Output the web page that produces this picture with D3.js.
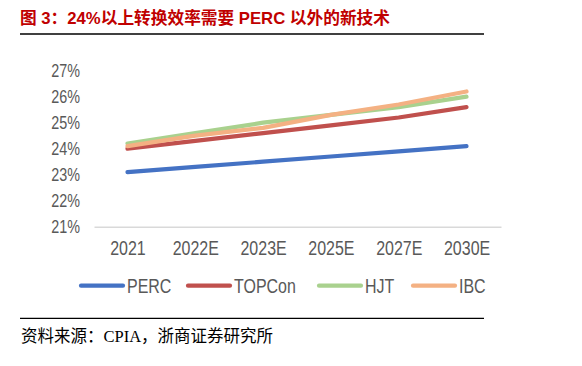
<!DOCTYPE html>
<html>
<head>
<meta charset="utf-8">
<script src="https://cdn.jsdelivr.net/npm/d3@7"></script>
<style>
  body { margin: 0; background: #fff; }
  svg { display: block; }
  .tick text { fill: #595959; font-family: "Liberation Sans", sans-serif; }
</style>
</head>
<body>
<svg width="582" height="366"></svg>
<script>
const years   = ["2021", "2022E", "2023E", "2025E", "2027E", "2030E"];
const perc    = [23.1, 23.3, 23.5, 23.7, 23.9, 24.1];
const topcon  = [24.0, 24.3, 24.6, 24.9, 25.2, 25.6];
const hjt     = [24.2, 24.6, 25.0, 25.3, 25.6, 26.0];
const ibc     = [24.1, 24.5, 24.8, 25.3, 25.7, 26.2];
const yTicks  = [21, 22, 23, 24, 25, 26, 27];

const series = [
  {name: "PERC",   values: perc,   color: "#4472C4"},
  {name: "TOPCon", values: topcon, color: "#C0504D"},
  {name: "HJT",    values: hjt,    color: "#A9D18E"},
  {name: "IBC",    values: ibc,    color: "#F4B183"}
];

// narrow look, like Arial Narrow
const narrow = "scale(0.82,1)";

let svg = d3.select("svg");

// title and rules
svg.append("text")
  .attr("x", 20).attr("y", 24)
  .attr("fill", "#C00000")
  .style("font-family", "'Liberation Sans', 'Noto Sans CJK SC', sans-serif")
  .style("font-weight", "bold")
  .style("font-size", "16.7px")
  .text("图 3：24%以上转换效率需要 PERC 以外的新技术");

svg.append("line").attr("x1", 20).attr("x2", 484).attr("y1", 34).attr("y2", 34)
  .attr("stroke", "#000").attr("stroke-width", 1.3);
svg.append("line").attr("x1", 20).attr("x2", 484).attr("y1", 318.3).attr("y2", 318.3)
  .attr("stroke", "#000").attr("stroke-width", 1.3);

svg.append("text")
  .attr("x", 21).attr("y", 342)
  .attr("fill", "#000")
  .style("font-family", "'Liberation Serif', 'Noto Sans CJK SC', serif")
  .style("font-size", "16.5px")
  .text("资料来源：CPIA，浙商证券研究所");

// scales
let x = d3.scalePoint().domain(years).range([127.5, 466.5]),
    xb = d3.scaleBand().domain(years).range([94, 501]),
    y = d3.scaleLinear().domain([21, 27]).range([226.7, 70.7]);

// y axis labels
let gy = svg.append("g")
  .attr("transform", "translate(80,0)")
  .call(d3.axisLeft(y).tickValues(yTicks).tickSize(0).tickPadding(0).tickFormat(d => d + "%"));
gy.select(".domain").remove();
gy.selectAll("text").style("font-size", "17.5px").attr("transform", narrow);

// x axis
let gx = svg.append("g")
  .attr("transform", `translate(0,${y(21)})`)
  .call(d3.axisBottom(xb).tickSize(0).tickPadding(14));
gx.select(".domain").attr("stroke", "#D9D9D9").attr("stroke-width", 1.5);
gx.selectAll("text").style("font-size", "19.5px").attr("transform", narrow);

// lines
let line = d3.line()
  .x((d, i) => x(years[i]))
  .y(d => y(d));

svg.selectAll(".series")
  .data(series)
  .enter().append("path")
    .attr("class", "series")
    .attr("d", d => line(d.values))
    .attr("fill", "none")
    .attr("stroke", d => d.color)
    .attr("stroke-width", 4.2)
    .attr("stroke-linecap", "round")
    .attr("stroke-linejoin", "round");

// legend
const legendX = [81, 188, 319, 413];
let legend = svg.selectAll(".legend")
  .data(series)
  .enter().append("g")
    .attr("class", "legend")
    .attr("transform", (d, i) => `translate(${legendX[i]},285.7)`);

legend.append("line")
  .attr("x1", 0).attr("x2", 42)
  .attr("stroke", d => d.color)
  .attr("stroke-width", 4.2)
  .attr("stroke-linecap", "round");

legend.append("g")
  .attr("transform", "translate(46,7)")
  .append("text")
    .attr("transform", narrow)
    .attr("fill", "#595959")
    .style("font-family", "'Liberation Sans', sans-serif")
    .style("font-size", "19.5px")
    .text(d => d.name);
</script>
</body>
</html>
